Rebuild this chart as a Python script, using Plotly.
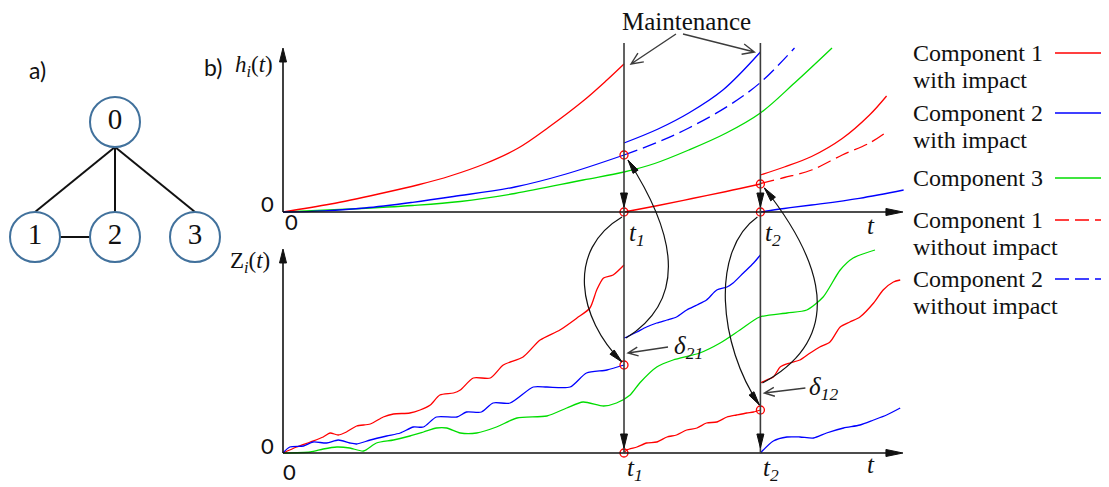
import math
import plotly.graph_objects as go

# ---------------- data ----------------
T1, T2 = 5.0, 7.0          # maintenance instants t1, t2

# upper panel: hazard h_i(t)
h_red_t1 = [0, 0.7, 1.4, 2.0, 2.45, 2.95, 3.45, 3.9, 4.4, 4.75, 5.0]
h_red_1 = [0, 0.8, 1.8, 2.75, 3.6, 4.8, 6.4, 8.5, 11.1, 13.2, 14.8]
h_red_t2 = [5.0, 5.5, 6.0, 6.5, 7.0]
h_red_2 = [0, 0.65, 1.35, 2.05, 2.8]
h_red_t3 = [7.0, 7.35, 7.75, 8.2, 8.6, 8.85]
h_red_3 = [3.7, 4.5, 5.55, 7.35, 9.7, 11.6]
h_red_3_free = [2.85, 3.45, 4.2, 5.7, 6.9, 8.0]

h_blue_t1 = [0, 0.6, 1.2, 1.9, 2.5, 3.4, 4.15, 5.0]
h_blue_1 = [0, 0.12, 0.4, 0.97, 1.55, 2.5, 3.8, 5.7]
h_blue_t2 = [5.0, 5.5, 5.95, 6.45, 7.0]
h_blue_2 = [6.9, 8.3, 9.9, 12.2, 16.0]
h_blue_free_t = [5.0, 5.5, 5.95, 6.55, 7.0, 7.5]
h_blue_free = [5.7, 7.0, 8.4, 10.7, 12.95, 16.4]
h_blue_t3 = [7.0, 7.35, 7.75, 8.45, 9.1]
h_blue_3 = [0, 0.35, 0.7, 1.37, 2.2]

h_green_t = [0, 1.0, 1.9, 2.6, 3.4, 4.4, 5.0, 5.45, 5.95, 6.5, 7.0, 7.5, 8.05]
h_green = [0, 0.3, 0.65, 1.05, 1.85, 3.2, 4.0, 4.85, 6.2, 7.9, 9.9, 12.9, 16.4]

# lower panel: degradation Z_i(t)
z_red_t1 = [0, 0.2, 0.4, 0.59, 0.69, 0.81, 0.93, 1.08, 1.28, 1.47, 1.62, 1.86, 2.01, 2.16, 2.3,
            2.5, 2.6, 2.79, 3.04, 3.23, 3.52, 3.77, 4.06, 4.31, 4.5, 4.6, 4.7, 4.84, 5.0]
z_red_1 = [0, 0.6, 1.1, 1.6, 2.0, 1.8, 2.1, 2.7, 2.9, 3.6, 3.9, 4.0, 4.3, 4.8, 5.8,
           6.0, 6.3, 7.5, 7.5, 8.8, 9.6, 11.3, 12.3, 13.5, 14.5, 16.3, 17.5, 17.8, 18.8]
z_red_t2 = [5.0, 5.04, 5.19, 5.33, 5.48, 5.63, 5.77, 5.92, 6.07, 6.21, 6.36, 6.51, 6.65, 6.8, 6.9, 7.0]
z_red_2 = [0, 0.3, 0.6, 1.0, 1.1, 1.6, 1.8, 2.3, 2.5, 3.0, 3.1, 3.6, 3.8, 4.0, 4.1, 4.3]
z_red_t3 = [7.0, 7.09, 7.19, 7.29, 7.43, 7.58, 7.73, 7.87, 8.02, 8.17, 8.31, 8.46, 8.66, 8.8, 8.95, 9.05]
z_red_3 = [7.0, 7.3, 7.6, 8.6, 9.0, 9.3, 10.0, 10.6, 11.1, 12.6, 13.1, 13.6, 15.0, 16.3, 17.1, 17.3]

z_blue_t1 = [0, 0.1, 0.3, 0.44, 0.64, 0.81, 0.98, 1.08, 1.28, 1.52, 1.72, 1.91, 2.06, 2.25, 2.55,
             2.69, 2.91, 3.08, 3.33, 3.67, 3.87, 4.21, 4.45, 4.75, 5.0]
z_blue_1 = [0, 0.6, 0.7, 1.1, 1.0, 1.3, 1.0, 0.9, 1.3, 1.7, 2.0, 2.6, 2.6, 3.6, 3.6,
            4.1, 4.1, 5.0, 5.0, 6.6, 6.6, 6.6, 8.0, 8.3, 8.8]
z_blue_t2 = [5.0, 5.04, 5.19, 5.33, 5.48, 5.63, 5.77, 5.92, 6.07, 6.21, 6.36, 6.51, 6.6, 6.75, 6.9, 7.0]
z_blue_2 = [11.5, 11.6, 12.1, 12.6, 13.0, 13.3, 13.6, 14.3, 14.8, 15.3, 16.3, 16.6, 17.0, 18.0, 19.0, 19.8]
z_blue_t3 = [7.0, 7.19, 7.39, 7.58, 7.78, 7.97, 8.22, 8.46, 8.66, 8.85, 9.05]
z_blue_3 = [0, 1.2, 1.6, 1.6, 1.5, 2.0, 2.5, 2.8, 3.3, 3.8, 4.5]

z_green_t = [0, 0.4, 0.59, 0.79, 0.98, 1.18, 1.37, 1.62, 1.86, 2.06, 2.25, 2.4, 2.6, 2.84, 3.13,
             3.43, 3.87, 4.16, 4.4, 4.7, 4.89, 5.09, 5.23, 5.48, 5.72, 6.11, 6.41, 6.7, 6.99,
             7.39, 7.68, 7.92, 8.17, 8.36, 8.68]
z_green = [0, 0.1, 0.4, 0.6, 0.5, 0.2, 1.0, 1.3, 1.7, 2.1, 2.5, 2.5, 2.0, 2.0, 2.6,
           3.5, 3.7, 4.5, 5.1, 4.7, 5.0, 5.8, 7.0, 8.6, 9.3, 10.0, 11.0, 12.3, 13.6,
           14.0, 14.3, 15.6, 18.3, 19.5, 20.3]

# panel a): component graph
node_labels = ['0', '1', '2', '3']
node_col = [1, 0, 1, 2]
node_row = [0, 1, 1, 1]
edges = [(0, 1), (0, 2), (0, 3), (1, 2)]

legend_names = [('Component 1', 'with impact'), ('Component 2', 'with impact'), ('Component 3', None),
                ('Component 1', 'without impact'), ('Component 2', 'without impact')]

# ---------------- geometry / style ----------------
W, H = 1109, 487
OFF = 8                            # page body margin in front of the plot div
X0, KX = 283, 68.2                 # t=0 at x=283 px (page coords)
Y0_TOP, Y0_BOT, KY = 212, 453, 10.0
T_AXIS_END = 9.09
GX0, GKX, GY0, GKY, R = 35, 80, 122, 115, 25

RED, BLUE, GREEN = '#ff0000', '#0000ff', '#00dd00'
INK, GRAY = '#111111', '#3c3c3c'
SERIF, SANS = 'Liberation Serif', 'Lato'
DASH = '14px,6px'


def px(t):
    return X0 + KX * t


def py_top(h):
    return Y0_TOP - KY * h


def py_bot(z):
    return Y0_BOT - KY * z


def P(x, y):
    return (x - OFF) / W, 1 - (y - OFF) / H


fig = go.Figure()


def line(t, v, color, axis, dash=None, smooth=1.0):
    fig.add_trace(go.Scatter(x=t, y=v, mode='lines', xaxis='x', yaxis=axis, hoverinfo='skip',
                             line=dict(color=color, width=1.3, dash=dash, shape='spline',
                                       smoothing=smooth)))


# upper panel curves
line(h_green_t, h_green, GREEN, 'y')
line(h_red_t1, h_red_1, RED, 'y')
line(h_red_t2, h_red_2, RED, 'y')
line(h_red_t3, h_red_3, RED, 'y')
line(h_red_t3, h_red_3_free, RED, 'y', DASH)
line(h_blue_t1, h_blue_1, BLUE, 'y')
line(h_blue_t2, h_blue_2, BLUE, 'y')
line(h_blue_free_t, h_blue_free, BLUE, 'y', DASH)
line(h_blue_t3, h_blue_3, BLUE, 'y')

# lower panel curves
line(z_green_t, z_green, GREEN, 'y2', smooth=0.7)
line(z_red_t1, z_red_1, RED, 'y2', smooth=0.7)
line(z_red_t2, z_red_2, RED, 'y2', smooth=0.7)
line(z_red_t3, z_red_3, RED, 'y2', smooth=0.7)
line(z_blue_t1, z_blue_1, BLUE, 'y2', smooth=0.7)
line(z_blue_t2, z_blue_2, BLUE, 'y2', smooth=0.7)
line(z_blue_t3, z_blue_3, BLUE, 'y2', smooth=0.7)


# ---------------- drawing helpers (page pixels -> paper) ----------------
def pth(pts, close=False):
    s = ''
    for i, (x, y) in enumerate(pts):
        X, Y = P(x, y)
        s += ('M' if i == 0 else 'L') + f'{X:.5f},{Y:.5f} '
    return s + ('Z' if close else '')


def add_path(d, color=INK, width=1.3, fill=None):
    kw = dict(type='path', path=d, xref='paper', yref='paper', layer='above',
              line=dict(color=color, width=width))
    if fill:
        kw['fillcolor'] = fill
    fig.add_shape(**kw)


def unit(a, b):
    dx, dy = b[0] - a[0], b[1] - a[1]
    n = math.hypot(dx, dy)
    return dx / n, dy / n


def solid_head(tip, frm, length=13, width=7, color=INK):
    ux, uy = unit(frm, tip)
    bx, by = tip[0] - ux * length, tip[1] - uy * length
    nx, ny = -uy * width / 2, ux * width / 2
    add_path(pth([tip, (bx + nx, by + ny), (bx - nx, by - ny)], close=True), color, 1, color)


def open_arrow(frm, tip, length=12, spread=0.42, color=GRAY, width=1.4):
    ux, uy = unit(frm, tip)
    wings = []
    for s in (spread, -spread):
        c, si = math.cos(s), math.sin(s)
        wx, wy = -(ux * c - uy * si), -(ux * si + uy * c)
        wings.append((tip[0] + wx * length, tip[1] + wy * length))
    add_path(pth([frm, tip]) + pth([wings[0], tip, wings[1]]), color, width)


def bent_arrow(p0, c1, c2, p3):
    pts = [P(*p) for p in (p0, c1, c2, p3)]
    d = f'M{pts[0][0]:.5f},{pts[0][1]:.5f} C' + ' '.join(f'{x:.5f},{y:.5f}' for x, y in pts[1:])
    add_path(d, INK, 1.2)
    solid_head(p3, c2, length=14, width=6)


def text(x, y, s, size, family=SERIF, xanchor='center', color=INK):
    X, Y = P(x, y)
    fig.add_annotation(x=X, y=Y, xref='paper', yref='paper', text=s, showarrow=False,
                       xanchor=xanchor, yanchor='middle', borderpad=0,
                       font=dict(size=size, family=family, color=color))


# axes with arrows
for y0, ytop in ((Y0_TOP, 48), (Y0_BOT, 249)):
    add_path(pth([(X0, y0), (X0, ytop + 8)]), INK, 1.6)
    solid_head((X0, ytop), (X0, y0), 14, 7)
    add_path(pth([(X0, y0), (px(T_AXIS_END) - 10, y0)]), INK, 1.6)
    solid_head((px(T_AXIS_END), y0), (X0, y0), 17, 7)

# maintenance lines with downward arrows
for tm in (T1, T2):
    x = px(tm)
    add_path(pth([(x, 43), (x, Y0_BOT)]), GRAY, 1.6)
    solid_head((x, Y0_TOP - 5), (x, Y0_TOP - 30), 14, 7)
    solid_head((x, Y0_BOT - 5), (x, Y0_BOT - 30), 14, 7)

# red circles at reset points
fig.add_trace(go.Scatter(x=[T1, T1, T2, T2], y=[h_blue_1[-1], 0, h_red_2[-1], 0], yaxis='y',
                         mode='markers', hoverinfo='skip',
                         marker=dict(symbol='circle-open', size=8, color=RED, line=dict(width=1.3))))
fig.add_trace(go.Scatter(x=[T1, T1, T2], y=[z_blue_1[-1], 0, z_red_2[-1]], yaxis='y2',
                         mode='markers', hoverinfo='skip',
                         marker=dict(symbol='circle-open', size=8, color=RED, line=dict(width=1.3))))

# curved arrows linking the two panels
x1, x2 = px(T1), px(T2)
bent_arrow((x1 - 2, Y0_TOP + 5), (x1 - 58, Y0_TOP + 38), (x1 - 46, py_bot(z_blue_1[-1]) - 47),
           (x1 - 2, py_bot(z_blue_1[-1]) - 3))
bent_arrow((x1 + 2, py_bot(z_blue_2[0])), (x1 + 71, py_bot(z_blue_2[0]) - 43), (x1 + 44, 222),
           (x1 + 4, py_top(h_blue_1[-1]) + 5))
bent_arrow((x2 - 3, Y0_TOP + 5), (x2 - 50, Y0_TOP + 38), (x2 - 42, py_bot(z_red_2[-1]) - 65),
           (x2 - 1, py_bot(z_red_2[-1]) - 5))
bent_arrow((x2 + 2, py_bot(z_red_3[0])), (x2 + 100, py_bot(z_red_3[0]) - 53), (x2 + 45, 240),
           (x2 + 4, py_top(h_red_2[-1]) + 4))

# delta jumps
open_arrow((x1 + 44, py_bot(z_blue_2[0]) + 9), (x1 + 4, py_bot(z_blue_2[0]) + 15), 11)
text(688, 347, '<i>δ</i><sub><i>21</i></sub>', 25)
open_arrow((x2 + 45, py_bot(z_red_3[0]) + 5), (x2 + 4, py_bot(z_red_3[0]) + 10), 11)
text(823, 388, '<i>δ</i><sub><i>12</i></sub>', 25)

# Maintenance label (page starts 8 px down, keep it inside)
text(686, 21, 'Maintenance', 25)
open_arrow((676, 34), (x1 + 7, 64), 13)
open_arrow((683, 34), (x2 - 6, 52), 13)

# axis labels
text(213, 67, 'b)', 23, SANS)
text(254, 66, '<i>h</i><sub><i>i</i></sub>(<i>t</i>)', 23)
text(250, 262, 'Z<sub><i>i</i></sub>(<i>t</i>)', 23)
text(267, 203, '0', 22, SANS)
text(291, 222, '0', 22, SANS)
text(267, 445, '0', 22, SANS)
text(289, 471, '0', 22, SANS)
for xx, lab in ((x1, '1'), (x2, '2')):
    text(xx + 13, 234, f'<i>t</i><sub><i>{lab}</i></sub>', 25)
    text(xx + 11, 469, f'<i>t</i><sub><i>{lab}</i></sub>', 25)
text(871, 225, '<i>t</i>', 25)
text(871, 464, '<i>t</i>', 25)

# legend drawn by hand
leg_style = [(RED, None), (BLUE, None), (GREEN, None), (RED, DASH), (BLUE, DASH)]
leg_y = [53, 113, 178, 220, 279]
for (l1, l2), (col, dash), yy in zip(legend_names, leg_style, leg_y):
    text(912, yy, l1, 24, xanchor='left')
    if l2:
        text(912, yy + 27, l2, 24, xanchor='left')
    xa, ya = P(1055, yy)
    fig.add_shape(type='line', xref='paper', yref='paper', x0=xa, x1=1, y0=ya, y1=ya,
                  line=dict(color=col, width=1.3, dash=dash or 'solid'))

# panel a): graph of components
text(37, 70, 'a)', 23, SANS)
rx, ry = R / GKX, R / GKY
for a, b in edges:
    if node_row[a] == node_row[b]:
        ex, ey = [node_col[a] + rx, node_col[b] - rx], [node_row[a], node_row[b]]
    else:
        ex, ey = [node_col[a], node_col[b]], [node_row[a] + ry, node_row[b] - ry]
    fig.add_trace(go.Scatter(x=ex, y=ey, xaxis='x3', yaxis='y3', mode='lines', hoverinfo='skip',
                             line=dict(color=INK, width=2)))
fig.add_trace(go.Scatter(x=node_col, y=node_row, xaxis='x3', yaxis='y3', mode='markers+text',
                         text=node_labels, textposition='middle center', hoverinfo='skip',
                         textfont=dict(size=29, family=SERIF, color=INK),
                         marker=dict(size=2 * R, color='white', line=dict(color='#41719c', width=2))))

fig.update_layout(
    width=W, height=H, margin=dict(l=0, r=0, t=0, b=0), showlegend=False,
    paper_bgcolor='white', plot_bgcolor='rgba(0,0,0,0)',
    xaxis=dict(range=[(OFF - X0) / KX, (W + OFF - X0) / KX], domain=[0, 1], visible=False, fixedrange=True),
    yaxis=dict(range=[(Y0_TOP - OFF - H) / KY, (Y0_TOP - OFF) / KY], domain=[0, 1], visible=False,
               fixedrange=True),
    yaxis2=dict(range=[(Y0_BOT - OFF - H) / KY, (Y0_BOT - OFF) / KY], overlaying='y', visible=False,
                fixedrange=True),
    xaxis3=dict(range=[(OFF - GX0) / GKX, (W + OFF - GX0) / GKX], domain=[0, 1], anchor='y3', visible=False),
    yaxis3=dict(range=[(H + OFF - GY0) / GKY, (OFF - GY0) / GKY], domain=[0, 1], anchor='x3', visible=False),
)

fig.write_html("out.html")
